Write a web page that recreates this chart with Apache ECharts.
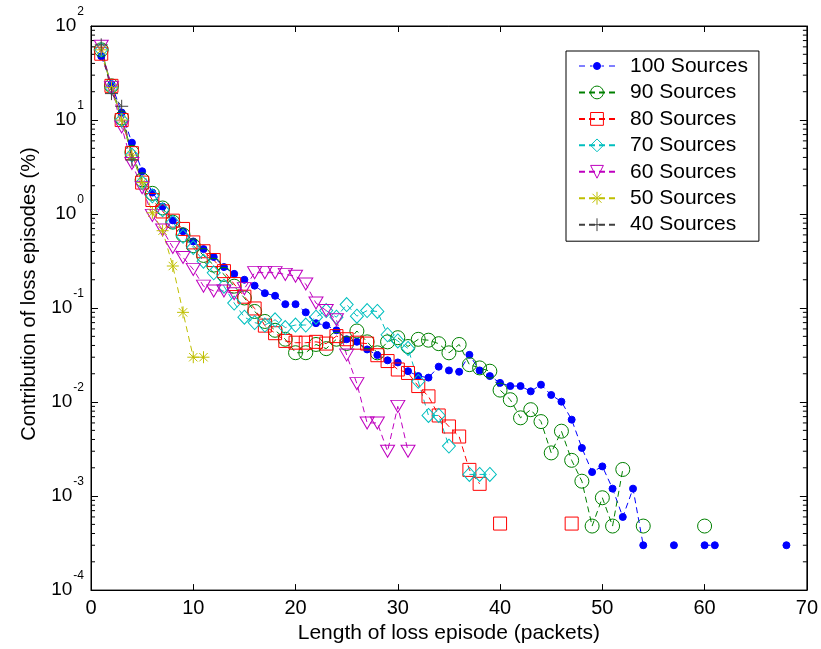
<!DOCTYPE html>
<html>
<head>
<meta charset="utf-8">
<script src="https://cdn.jsdelivr.net/npm/echarts@6/dist/echarts.min.js"></script>
<style>html,body{margin:0;padding:0;background:#fff;}#c{width:821px;height:649px;}</style>
</head>
<body>
<div id="c"></div>
<script>
// ---- data: contribution (%) for loss-episode length 1,2,3,... (null = no episode) ----
const xTicks = [0, 10, 20, 30, 40, 50, 60, 70];
const seriesNames = ['100 Sources', '90 Sources', '80 Sources', '70 Sources', '60 Sources', '50 Sources', '40 Sources'];

const src100 = [47.7, 24.1, 12, 5.74, 2.85, 1.69, 1.2, 0.856, 0.655, 0.511, 0.424, 0.349, 0.273, 0.231, 0.2, 0.173, 0.144, 0.135, 0.11, 0.11,
  0.09, 0.069, 0.0655, 0.058, 0.0466, 0.0438, 0.0363, 0.0316, 0.0278, 0.0264, 0.0213, 0.0189, 0.0182, 0.0238, 0.0217, 0.021, 0.0318, 0.0217, 0.0189, 0.016,
  0.0148, 0.0148, 0.013, 0.0153, 0.0119, 0.0101, 0.0065, 0.00325, 0.0018, 0.00207, 0.0012, 0.0006, 0.0012, 0.0003, null, null, 0.0003, null, null, 0.0003,
  0.0003, null, null, null, null, null, null, 0.0003];
const src90 = [55.8, 23.1, 10.5, 4.54, 2.31, 1.66, 1.16, 0.82, 0.6, 0.46, 0.363, 0.286, 0.228, 0.171, 0.128, 0.092, 0.072, 0.058, 0.0466, 0.0335,
  0.0335, 0.041, 0.037, 0.0466, 0.042, 0.057, 0.0437, 0.0334, 0.0437, 0.0484, 0.039, 0.0465, 0.0455, 0.0418, 0.0334, 0.041, 0.025, 0.0231, 0.0213, 0.0134,
  0.0106, 0.0068, 0.0083, 0.0062, 0.00288, 0.0049, 0.0024, 0.00144, 0.00048, 0.00096, 0.00048, 0.00192, null, 0.00048, null, null, null, null, null, 0.00048];
const src80 = [50.7, 23.1, 10, 4.44, 2.16, 1.41, 1.065, 0.85, 0.694, 0.499, 0.402, 0.324, 0.247, 0.18, 0.132, 0.099, 0.065, 0.054, 0.0447, 0.0428,
  0.0428, 0.0437, 0.0419, 0.0503, 0.0466, 0.0428, 0.0419, 0.0315, 0.0273, 0.0222, 0.0204, 0.0148, 0.0115, 0.0072, 0.0055, 0.0043, 0.0019, 0.00135, null, 0.00051,
  null, null, null, null, null, null, 0.00051];
const src70 = [55.8, 22.1, 10, 4.24, 2.16, 1.56, 1.11, 0.82, 0.58, 0.44, 0.315, 0.237, 0.171, 0.113, 0.08, 0.07, 0.066, 0.075, 0.062, 0.066,
  0.066, 0.08, 0.094, 0.08, 0.109, 0.082, 0.094, 0.092, 0.052, 0.0447, 0.0372, 0.0166, 0.0072, 0.0072, 0.0034, null, 0.0017, 0.0017, 0.0017];
const src60 = [61, 22.1, 8.45, 3.45, 1.91, 0.968, 0.676, 0.442, 0.345, 0.258, 0.171, 0.152, 0.152, 0.142, 0.161, 0.238, 0.238, 0.238, 0.228, 0.218,
  0.18, 0.113, 0.094, 0.075, 0.0316, 0.0157, 0.006, 0.006, 0.003, 0.009, 0.003];
const src50 = [55.8, 22.1, 10, 4.24, 2.16, 1.03, 0.665, 0.28, 0.09, 0.03, 0.03];
const src40 = [63, 19.1, 14, 3.75];

const minorTickValues = [];
[1e-4, 1e-3, 1e-2, 1e-1, 1, 10].forEach(function (d) {
  [2, 3, 4, 5, 6, 7, 8, 9].forEach(function (m) { minorTickValues.push(m * d); });
});

// ---- chart ----
const FONT = 'Liberation Sans, Arial, sans-serif';
function toPairs(arr) { return arr.map(function (v, i) { return [i + 1, v]; }); }

const dash = [6, 4];
const styles = [
  { data: src100, color: '#0000FF', symbol: 'circle', size: 7, fill: '#0000FF' },
  { data: src90, color: '#008000', symbol: 'circle', size: 14, fill: 'rgba(0,0,0,0)' },
  { data: src80, color: '#FF0000', symbol: 'rect', size: 13, fill: 'rgba(0,0,0,0)' },
  { data: src70, color: '#00BFBF', symbol: 'diamond', size: [13, 14], fill: 'rgba(0,0,0,0)' },
  { data: src60, color: '#BF00BF', symbol: 'path://M0,0L2,0L1,1.75Z', size: [14, 12], fill: 'rgba(0,0,0,0)' },
  { data: src50, color: '#BFBF00', symbol: 'path://M0,-1L0,1M-1,0L1,0M-0.7,-0.7L0.7,0.7M-0.7,0.7L0.7,-0.7', size: 12, fill: 'rgba(0,0,0,0)' },
  { data: src40, color: '#404040', symbol: 'path://M0,-1L0,1M-1,0L1,0', size: 13, fill: 'rgba(0,0,0,0)' }
];

const series = styles.map(function (s, i) {
  return {
    name: seriesNames[i], type: 'line', xAxisIndex: 0, yAxisIndex: 0,
    data: toPairs(s.data), connectNulls: false,
    symbol: s.symbol, symbolSize: s.size, showAllSymbol: true,
    lineStyle: { color: s.color, width: 1, type: dash },
    itemStyle: { color: s.fill, borderColor: s.color, borderWidth: 1 },
    emphasis: { disabled: true }, animation: false
  };
});

series.push({
  type: 'custom', name: 'minorTicks', xAxisIndex: 0, yAxisIndex: 0, silent: true, animation: false,
  data: minorTickValues.map(function (v) { return [0, v]; }),
  renderItem: function (params, api) {
    const v = api.value(1);
    const l = api.coord([xTicks[0], v]);
    const r = api.coord([xTicks[xTicks.length - 1], v]);
    return { type: 'group', children: [
      { type: 'line', shape: { x1: l[0], y1: l[1], x2: l[0] + 4, y2: l[1] }, style: { stroke: '#000', lineWidth: 1 } },
      { type: 'line', shape: { x1: r[0] - 4, y1: r[1], x2: r[0], y2: r[1] }, style: { stroke: '#000', lineWidth: 1 } }
    ] };
  }
});

function yFmt(v) {
  const e = Math.round(Math.log10(v));
  return '{b|10}{s|' + e + '}';
}

// legend icon for the small-dot series: dashes + small dot (36x16 box)
const dotIcon = 'path://M0,8L6,8M11,8L13.5,8M21.5,8A3.5,3.5 0 1 1 14.5,8A3.5,3.5 0 1 1 21.5,8M22.5,8L25,8M30,8L36,8M18,0L18,0.01M18,16L18,15.99';
const legendData = seriesNames.map(function (n, i) {
  return i === 0 ? { name: n, icon: dotIcon } : { name: n };
});

const chart = echarts.init(document.getElementById('c'), null, { renderer: 'canvas' });
chart.setOption({
  backgroundColor: '#fff',
  animation: false,
  grid: { left: 91, right: 13, top: 26, bottom: 58, show: true, borderColor: '#000', borderWidth: 1, backgroundColor: '#fff' },
  legend: {
    data: legendData, orient: 'vertical', left: 566, top: 51,
    itemWidth: 36, itemHeight: 16, itemGap: 5.45,
    padding: [4.5, 11, 6, 12],
    borderColor: '#000', borderWidth: 1, backgroundColor: '#fff',
    itemStyle: { borderWidth: 1 },
    textStyle: { fontFamily: FONT, fontSize: 21, lineHeight: 21, color: '#000', padding: [0, 0, 0, 10] },
    selectedMode: false
  },
  xAxis: [
    { type: 'value', min: 0, max: 70, interval: 10, position: 'bottom',
      name: 'Length of loss episode (packets)', nameLocation: 'middle', nameGap: 30,
      nameTextStyle: { fontFamily: FONT, fontSize: 21, color: '#000' },
      axisLine: { show: true, onZero: false, lineStyle: { color: '#000', width: 1 } },
      axisTick: { show: true, inside: true, length: 6, lineStyle: { color: '#000' } },
      axisLabel: { fontFamily: FONT, fontSize: 20, color: '#000', margin: 8 },
      splitLine: { show: false } },
    { type: 'value', min: 0, max: 70, interval: 10, position: 'top',
      axisLine: { show: true, onZero: false, lineStyle: { color: '#000', width: 1 } },
      axisTick: { show: true, inside: true, length: 6, lineStyle: { color: '#000' } },
      axisLabel: { show: false }, splitLine: { show: false } }
  ],
  yAxis: [
    { type: 'log', logBase: 10, min: 1e-4, max: 100, position: 'left',
      name: 'Contribution of loss episodes (%)', nameLocation: 'middle', nameGap: 52,
      nameTextStyle: { fontFamily: FONT, fontSize: 20, color: '#000', padding: [0, 0, 0, 28] },
      axisLine: { show: true, onZero: false, lineStyle: { color: '#000', width: 1 } },
      axisTick: { show: true, inside: true, length: 7, lineStyle: { color: '#000' } },
      axisLabel: { fontFamily: FONT, color: '#000', margin: 7, formatter: yFmt,
        rich: { b: { fontFamily: FONT, fontSize: 19, color: '#000', lineHeight: 40, verticalAlign: 'middle' },
                s: { fontFamily: FONT, fontSize: 12, color: '#000', lineHeight: 16, verticalAlign: 'top', padding: [0, 0, 0, 1] } } },
      splitLine: { show: false } },
    { type: 'log', logBase: 10, min: 1e-4, max: 100, position: 'right',
      axisLine: { show: true, onZero: false, lineStyle: { color: '#000', width: 1 } },
      axisTick: { show: true, inside: true, length: 7, lineStyle: { color: '#000' } },
      axisLabel: { show: false }, splitLine: { show: false } }
  ],
  series: series
});
</script>
</body>
</html>
